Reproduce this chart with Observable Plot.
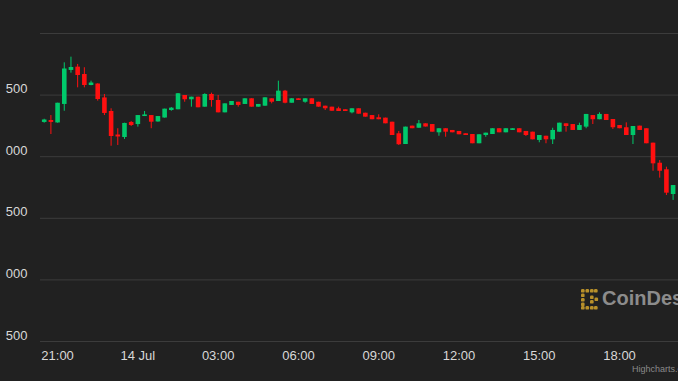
<!DOCTYPE html>
<html>
<head>
<meta charset="utf-8">
<script src="https://cdn.jsdelivr.net/npm/d3@7"></script>
<script src="https://cdn.jsdelivr.net/npm/@observablehq/plot@0.6"></script>
<style>
  html, body { margin: 0; padding: 0; background: #212121; }
  #chart { width: 678px; height: 381px; overflow: hidden; }
</style>
</head>
<body>
<div id="chart"></div>
<script>
// 15-minute candles, 13 Jul 20:30 -> 14 Jul 20:00 (UTC)
const startTime = "2021-07-13T20:30:00Z";
const intervalMinutes = 15;
const open = [32278,32294,32274,32424,32700,32727,32667,32578,32590,32477,32367,32176,32156,32278,32261,32326,32334,32282,32314,32375,32381,32497,32462,32483,32402,32505,32456,32356,32416,32442,32424,32470,32402,32410,32470,32448,32532,32434,32470,32442,32470,32442,32410,32402,32389,32381,32356,32389,32353,32334,32316,32313,32280,32186,32099,32248,32231,32267,32261,32194,32227,32213,32205,32186,32180,32105,32172,32180,32227,32194,32213,32227,32205,32199,32132,32166,32137,32199,32267,32261,32213,32240,32334,32300,32343,32302,32253,32235,32172,32248,32227,32110,31947,31894,31693];
const high = [32304,32334,32434,32762,32808,32749,32722,32613,32592,32505,32389,32227,32272,32286,32334,32367,32334,32326,32386,32399,32513,32497,32483,32483,32511,32516,32497,32429,32448,32442,32470,32470,32424,32478,32470,32613,32538,32472,32470,32470,32470,32442,32410,32402,32402,32381,32389,32389,32353,32334,32340,32313,32280,32205,32240,32248,32294,32267,32261,32227,32227,32213,32205,32186,32180,32178,32191,32227,32227,32227,32227,32227,32205,32199,32172,32166,32231,32272,32267,32261,32272,32343,32334,32356,32343,32302,32253,32275,32245,32248,32227,32110,31969,31915,31766];
const low = [32272,32180,32272,32369,32678,32559,32559,32576,32451,32334,32085,32091,32140,32245,32240,32326,32227,32280,32313,32369,32381,32442,32402,32397,32402,32402,32356,32356,32416,32402,32424,32402,32402,32410,32429,32448,32429,32434,32456,32434,32424,32402,32375,32369,32367,32367,32348,32345,32321,32300,32300,32267,32172,32091,32099,32227,32231,32241,32199,32166,32158,32194,32178,32172,32105,32105,32158,32180,32194,32194,32213,32194,32164,32137,32113,32105,32099,32199,32199,32213,32213,32227,32261,32300,32294,32221,32227,32172,32099,32213,32105,31882,31826,31685,31645];
const close = [32298,32278,32434,32712,32724,32659,32578,32598,32464,32351,32164,32160,32270,32253,32334,32339,32280,32326,32386,32394,32511,32462,32483,32397,32505,32456,32356,32429,32448,32416,32470,32402,32424,32478,32442,32532,32434,32470,32456,32470,32424,32402,32389,32369,32367,32367,32389,32345,32321,32300,32300,32267,32172,32097,32240,32227,32267,32241,32199,32227,32199,32194,32178,32172,32105,32178,32191,32227,32194,32227,32227,32194,32172,32137,32172,32137,32213,32272,32245,32213,32253,32343,32300,32343,32294,32235,32227,32172,32245,32213,32105,31942,31882,31704,31766];
const yTicks = [30500, 31000, 31500, 32000, 32500];
const yGrid = [30500, 31000, 31500, 32000, 32500, 33000];
const xTickTimes = ["2021-07-13T21:00:00Z","2021-07-14T00:00:00Z","2021-07-14T03:00:00Z","2021-07-14T06:00:00Z","2021-07-14T09:00:00Z","2021-07-14T12:00:00Z","2021-07-14T15:00:00Z","2021-07-14T18:00:00Z"];

const t0 = new Date(startTime).getTime();
const step = intervalMinutes * 60000;
const candles = open.map((o, i) => ({
  t: new Date(t0 + i * step),
  open: o, high: high[i], low: low[i], close: close[i],
  up: close[i] >= o
}));
const n = candles.length;
const xDomain = [new Date(t0 - 8.3 * 60000), new Date(t0 + (n - 1) * step + 12.1 * 60000)];

const GREEN = "#00c96b", RED = "#ff1010";
const fmtX = d => d.getUTCHours() === 0 ? d3.utcFormat("%-d %b")(d) : d3.utcFormat("%H:%M")(d);

const chart = Plot.plot({
  width: 678,
  height: 381,
  marginLeft: 40,
  marginRight: 0,
  marginTop: 33,
  marginBottom: 40,
  style: { background: "#212121", color: "#d8d8d8", fontFamily: "'Liberation Sans', Arial, sans-serif", fontSize: "13px" },
  x: { type: "utc", domain: xDomain, label: null },
  y: { domain: [30500, 33000], label: null },
  marks: [
    Plot.ruleY(yGrid, { stroke: "#3c3c3c", strokeWidth: 1 }),
    Plot.axisY(yTicks, { tickSize: 0, tickPadding: 13, dy: -6, label: null, tickFormat: d => String(d).slice(-3), fill: "#d8d8d8", fontSize: 13 }),
    Plot.axisX(xTickTimes.map(s => new Date(s)), { tickSize: 0, tickPadding: 9, label: null, tickFormat: fmtX, fill: "#d8d8d8", fontSize: 13 }),
    Plot.ruleX(candles, { x: "t", y1: "low", y2: "high", stroke: d => d.up ? GREEN : RED, strokeWidth: 1 }),
    Plot.ruleX(candles, { x: "t", y1: d => Math.min(d.open, d.close), y2: d => Math.max(d.open, d.close), stroke: d => d.up ? GREEN : RED, strokeWidth: 4.6, strokeLinecap: "butt" })
  ]
});

// Watermark and credit
const svg = d3.select(chart);
const wm = svg.append("g").attr("transform", "translate(581,289)");
const gold = "#b8902a";
[[0,0],[4.5,0],[9,0],[13,0],[0,4.5],[0,9],[0,13.5],[0,17],[4.5,17],[9,17],[13,17],[9,6.5],[9,11],[13.5,8.5]].forEach(([a,b]) => {
  wm.append("rect").attr("x", a).attr("y", b).attr("width", 3.6).attr("height", 3.6).attr("rx", 1.2).attr("fill", gold);
});
svg.append("text").attr("x", 602).attr("y", 305).attr("fill", "#8c8c8c").attr("text-anchor", "start")
  .attr("font-family", "'Liberation Sans', Arial, sans-serif").attr("font-weight", "bold").attr("font-size", 20)
  .text("CoinDesk");
svg.append("text").attr("x", 632).attr("y", 372).attr("fill", "#8a8a8a").attr("text-anchor", "start")
  .attr("font-family", "'Liberation Sans', Arial, sans-serif").attr("font-size", 9)
  .text("Highcharts.com");

document.getElementById("chart").appendChild(chart);
</script>
</body>
</html>
